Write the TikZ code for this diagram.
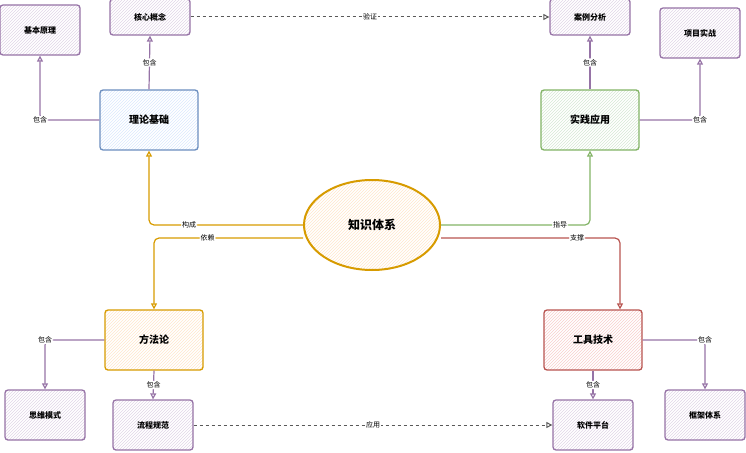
\documentclass[tikz,border=0pt]{standalone}
\usepackage{fontspec}
\newfontfamily\cjk{Noto Sans CJK SC}
\usetikzlibrary{arrows.meta,patterns,positioning,shapes.geometric}
\definecolor{blueD}{HTML}{6C8EBF}\definecolor{blueL}{HTML}{DAE8FC}
\definecolor{greenD}{HTML}{82B366}\definecolor{greenL}{HTML}{D5E8D4}
\definecolor{orangeD}{HTML}{D79B00}\definecolor{orangeL}{HTML}{FFE6CC}
\definecolor{redD}{HTML}{B85450}\definecolor{redL}{HTML}{F8CECC}
\definecolor{purpD}{HTML}{9673A6}\definecolor{purpL}{HTML}{E1D5E7}
\tikzset{
	box/.style={draw=#1D, line width=1.3pt, rounded corners=3pt, pattern=north east lines, pattern color=#1L, font=\cjk\fontsize{10}{11}\selectfont\bfseries, align=center},
	main/.style={box=#1, minimum width=98pt, minimum height=60pt},
	leaf/.style={box=purp, minimum width=80pt, minimum height=50pt, font=\cjk\fontsize{8}{9}\selectfont\bfseries},
	lbl/.style={fill=white, inner sep=1pt, font=\cjk\fontsize{7}{8}\selectfont},
	link/.style={draw=#1, line width=1.2pt, rounded corners=5pt, -{Triangle[open,length=6pt,width=6pt]}},
	dashlink/.style={draw=black!65, line width=1pt, dashed, -{Triangle[open,length=6pt,width=6pt]}},
}
\begin{document}
\begin{tikzpicture}[x=1pt,y=-1pt]
\useasboundingbox (0,0) rectangle (746,452);
% the center
\node[draw=orangeD, line width=2pt, ellipse, minimum width=136pt, minimum height=90pt, pattern=north east lines, pattern color=orangeL, font=\cjk\fontsize{12}{13}\selectfont\bfseries] (core) at (372,225) {知识体系};
% the main branches
\node[main=blue] (theory) at (149,120) {理论基础};
\node[main=green] (practice) at (590,120) {实践应用};
\node[main=orange] (method) at (154,340) {方法论};
\node[main=red] (tools) at (593,340) {工具技术};
% the leaves
\node[leaf] (basics) at (40,30) {基本原理};
\node[leaf, minimum height=36pt] (concept) at (150,17) {核心概念};
\node[leaf, minimum height=36pt] (cases) at (590,17) {案例分析};
\node[leaf] (projects) at (700,33) {项目实战};
\node[leaf] (thinking) at (45,415) {思维模式};
\node[leaf] (process) at (153,425) {流程规范};
\node[leaf] (software) at (593,425) {软件平台};
\node[leaf] (framework) at (705,415) {框架体系};

% from the center
\draw[link=orangeD] (core.west) -| node[lbl, pos=0.37] {构成} (theory.south);
\draw[link=orangeD] ([yshift=-13pt]core.west) -| node[lbl, pos=0.32] {依赖} (method.north);
\draw[link=greenD] (core.east) -| node[lbl, pos=0.4] {指导} (practice.south);
\draw[link=redD] ([yshift=-13pt]core.east) -| node[lbl, pos=0.38] {支撑} ([xshift=27pt]tools.north);

% the leaves
\draw[link=purpD] (theory.west) -| node[lbl, pos=0.5] {包含} (basics.south);
\draw[link=purpD] (theory.north) -- node[lbl] {包含} (concept.south);
\draw[link=purpD] (practice.north) -- node[lbl] {包含} (cases.south);
\draw[link=purpD] (practice.east) -| node[lbl, pos=0.5] {包含} (projects.south);
\draw[link=purpD] (method.west) -| node[lbl, pos=0.5] {包含} (thinking.north);
\draw[link=purpD] (method.south) -- node[lbl] {包含} (process.north);
\draw[link=purpD] (tools.south) -- node[lbl] {包含} (software.north);
\draw[link=purpD] (tools.east) -| node[lbl, pos=0.5] {包含} (framework.north);

% the dashed links
\draw[dashlink] (concept.east) -- node[lbl] {验证} (cases.west);
\draw[dashlink] (process.east) -- node[lbl] {应用} (software.west);
\end{tikzpicture}
\end{document}
